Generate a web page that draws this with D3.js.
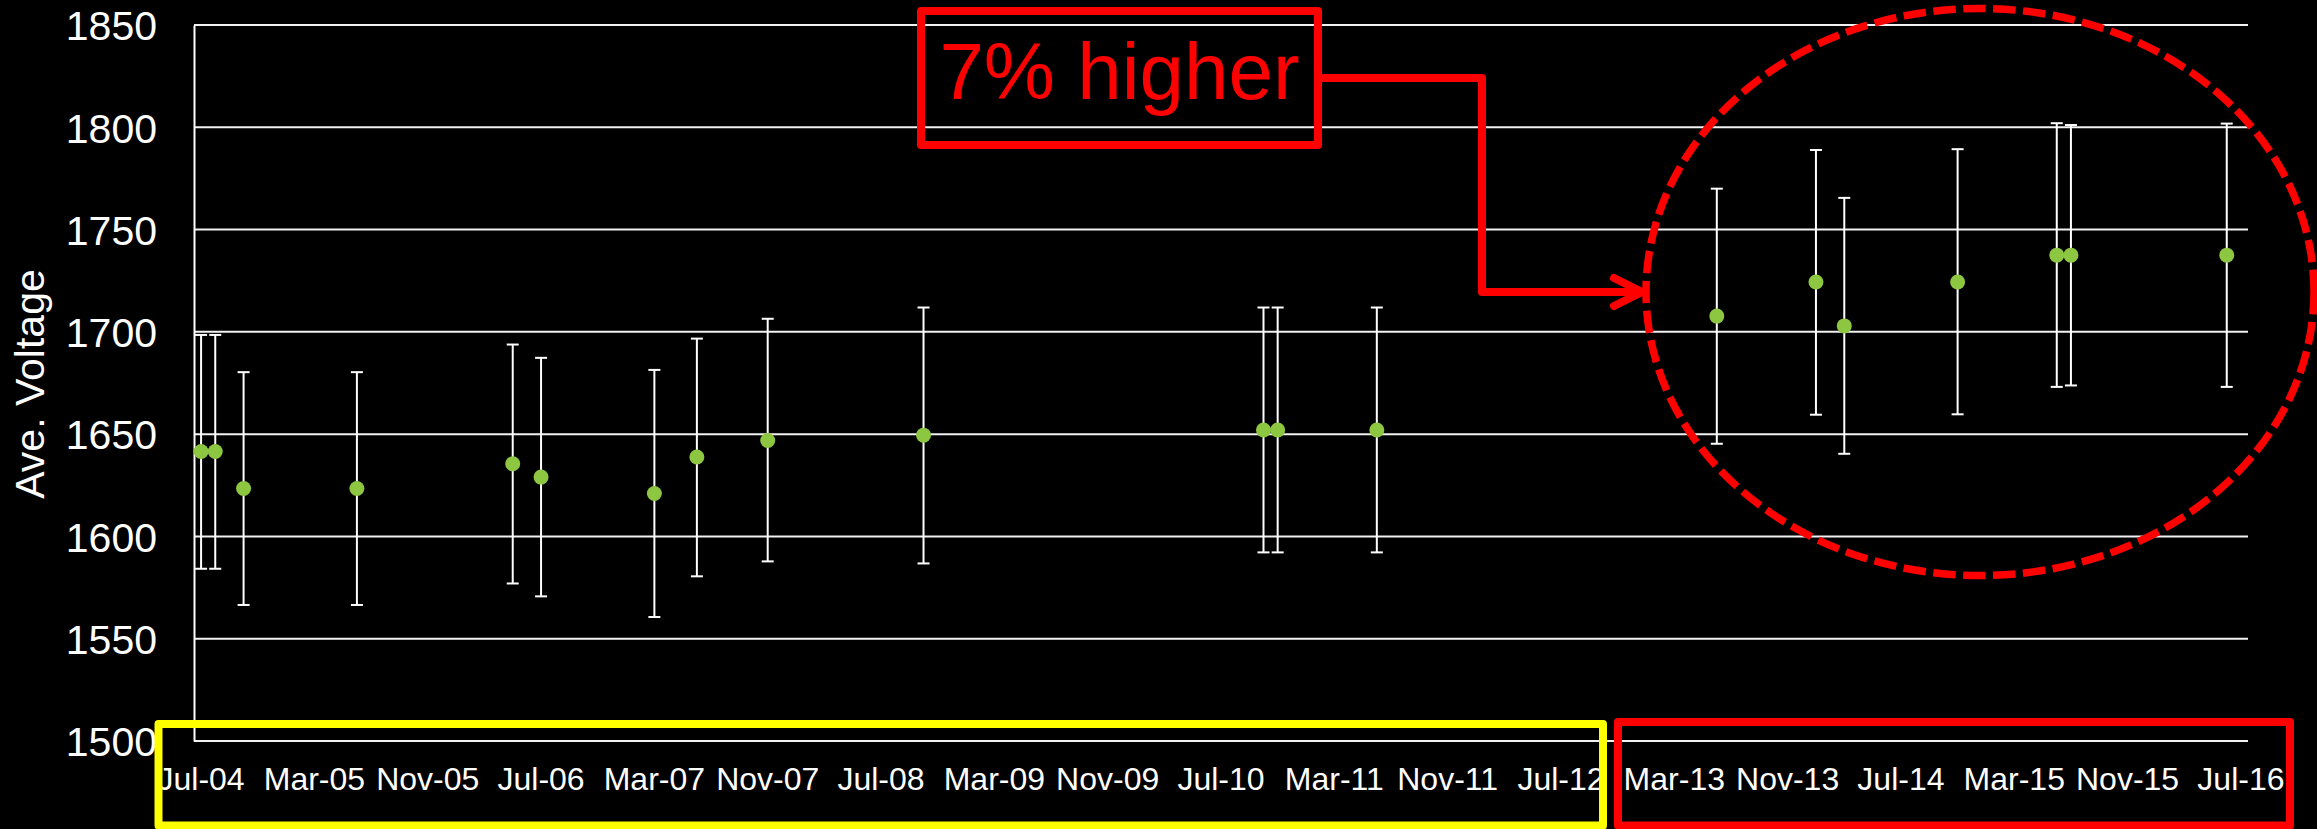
<!DOCTYPE html>
<html>
<head>
<meta charset="utf-8">
<script src="https://cdn.jsdelivr.net/npm/d3@7"></script>
<style>
  html, body { margin: 0; padding: 0; background: #000; }
  svg { display: block; }
  text { font-family: "Liberation Sans", Arial, sans-serif; }
</style>
</head>
<body>
<svg id="chart" width="2317" height="829"></svg>
<script>
// Survey dates (year-month), mean voltage and error-bar limits
const dates   = ["2004-07","2004-08","2004-10","2005-06","2006-05","2006-07","2007-03","2007-06","2007-11","2008-10",
                 "2010-10","2010-11","2011-06","2013-06","2014-01","2014-03","2014-11","2015-06","2015-07","2016-06"];
const voltage = [1641.5,1641.5,1623.4,1623.4,1635.5,1629,1621,1638.8,1646.9,1649.5,
                 1652,1652,1652,1707.7,1724.4,1702.9,1724.4,1737.5,1737.5,1737.5];
const upper   = [1698.5,1698.5,1680.3,1680.3,1693.8,1687.3,1681.4,1696.7,1706.4,1711.9,
                 1711.9,1711.9,1711.9,1770,1788.9,1765.5,1789.3,1802,1801.1,1801.8];
const lower   = [1584.2,1584.2,1566.5,1566.5,1577,1570.7,1560.6,1580.5,1587.8,1586.8,
                 1592.2,1592.2,1592.2,1645.3,1659.5,1640.4,1659.7,1673.1,1673.8,1673.1];
const yTicks  = [1500,1550,1600,1650,1700,1750,1800,1850];
const axisStart = "2004-07", axisEnd = "2016-07", labelEvery = 8;
const yTitle = "Ave. Voltage";
const calloutText = "7% higher";

const parseMonth = d3.timeParse("%Y-%m");
const fmtMonth = d3.timeFormat("%b-%y");

const svg = d3.select("#chart");
const plot = { left: 194, right: 2248, top: 25, bottom: 741 };

// One band per calendar month on the date axis
const months = d3.timeMonth.range(parseMonth(axisStart), d3.timeMonth.offset(parseMonth(axisEnd), 1));
const x = d3.scaleBand().domain(months).range([plot.left, plot.right]).padding(0);
const y = d3.scaleLinear().domain([1500, 1850]).range([plot.bottom, plot.top]);
const xc = d => x(d) + x.bandwidth() / 2;

const points = dates.map((d, i) => ({ date: parseMonth(d), v: voltage[i], hi: upper[i], lo: lower[i] }));

// Horizontal gridlines
svg.append("g").selectAll("line").data(yTicks).join("line")
  .attr("x1", plot.left).attr("x2", plot.right)
  .attr("y1", d => y(d)).attr("y2", d => y(d))
  .attr("stroke", "#f2f2f2").attr("stroke-width", 2);

// Y axis
const yAxis = svg.append("g").attr("transform", `translate(${plot.left},0)`)
  .call(d3.axisLeft(y).tickValues(yTicks).tickSize(0).tickPadding(37).tickFormat(d3.format("d")));
yAxis.select(".domain").attr("stroke", "#fff").attr("stroke-width", 2);
yAxis.selectAll("text").attr("fill", "#fff").attr("font-size", 41).attr("dy", "0.36em")
  .style("font-family", "'Liberation Sans', Arial, sans-serif");

// X axis (labels every 8 months)
const tickMonths = months.filter((m, i) => i % labelEvery === 0);
const xAxis = svg.append("g").attr("transform", `translate(0,${plot.bottom})`)
  .call(d3.axisBottom(x).tickValues(tickMonths).tickFormat(fmtMonth).tickSize(0).tickPadding(26));
xAxis.select(".domain").remove();
xAxis.selectAll("text").attr("fill", "#fff").attr("font-size", 32).attr("dy", "0.71em")
  .style("font-family", "'Liberation Sans', Arial, sans-serif");

// Y axis title
svg.append("text")
  .attr("transform", `translate(44,${(plot.top + plot.bottom) / 2 + 1}) rotate(-90)`)
  .attr("text-anchor", "middle").attr("fill", "#fff").attr("font-size", 41)
  .text(yTitle);

// Error bars
const cap = 6;
const eb = svg.append("g").attr("stroke", "#fff").attr("stroke-width", 2);
eb.selectAll("line.stem").data(points).join("line").attr("class", "stem")
  .attr("x1", d => xc(d.date)).attr("x2", d => xc(d.date))
  .attr("y1", d => y(d.hi)).attr("y2", d => y(d.lo));
eb.selectAll("line.capHi").data(points).join("line").attr("class", "capHi")
  .attr("x1", d => xc(d.date) - cap).attr("x2", d => xc(d.date) + cap)
  .attr("y1", d => y(d.hi)).attr("y2", d => y(d.hi));
eb.selectAll("line.capLo").data(points).join("line").attr("class", "capLo")
  .attr("x1", d => xc(d.date) - cap).attr("x2", d => xc(d.date) + cap)
  .attr("y1", d => y(d.lo)).attr("y2", d => y(d.lo));

// Mean markers
svg.append("g").selectAll("circle").data(points).join("circle")
  .attr("cx", d => xc(d.date)).attr("cy", d => y(d.v)).attr("r", 7.5)
  .attr("fill", "#8DC641");

// Highlight frames around the two periods on the axis
svg.append("rect").attr("x", 158.5).attr("y", 724).attr("width", 1444.5).attr("height", 101.5)
  .attr("fill", "none").attr("stroke", "#FFFF00").attr("stroke-width", 8).attr("stroke-linejoin", "round");
svg.append("rect").attr("x", 1618).attr("y", 722).attr("width", 672).attr("height", 103.5)
  .attr("fill", "none").attr("stroke", "#FF0000").attr("stroke-width", 8).attr("stroke-linejoin", "round");

// Dashed ellipse around the recent group
svg.append("ellipse").attr("cx", 1980).attr("cy", 292).attr("rx", 334).attr("ry", 283.5)
  .attr("fill", "none").attr("stroke", "#FF0000").attr("stroke-width", 7.5)
  .attr("stroke-dasharray", "22.5 7.5");

// Callout box, text and elbow arrow
svg.append("rect").attr("x", 921).attr("y", 11).attr("width", 397).attr("height", 134)
  .attr("fill", "none").attr("stroke", "#FF0000").attr("stroke-width", 8).attr("stroke-linejoin", "round");
svg.append("text").attr("x", 1119.5).attr("y", 99).attr("text-anchor", "middle")
  .attr("fill", "#FF0000").attr("font-size", 80).text(calloutText);
svg.append("path").attr("d", "M1322,78 H1482 V292 H1640")
  .attr("fill", "none").attr("stroke", "#FF0000").attr("stroke-width", 8).attr("stroke-linejoin", "round");
svg.append("path").attr("d", "M1614,278 L1642,292 L1614,306")
  .attr("fill", "none").attr("stroke", "#FF0000").attr("stroke-width", 8)
  .attr("stroke-linejoin", "round").attr("stroke-linecap", "round");
</script>
</body>
</html>
